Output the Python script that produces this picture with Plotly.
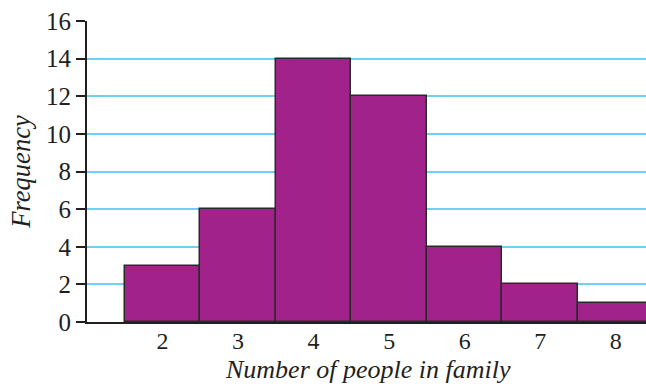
import plotly.graph_objects as go

family_size = [2, 3, 4, 5, 6, 7, 8]
frequency = [3, 6, 14, 12, 4, 2, 1]
y_ticks = [0, 2, 4, 6, 8, 10, 12, 14, 16]

font_family = "Liberation Serif"

fig = go.Figure(
    go.Bar(
        x=family_size,
        y=frequency,
        width=1,
        marker=dict(color="#A0228A", line=dict(color="#2a2a2a", width=1.5)),
        showlegend=False,
        hoverinfo="skip",
    )
)

fig.update_layout(
    width=646,
    height=386,
    margin=dict(l=87, r=0, t=21, b=64),
    plot_bgcolor="white",
    paper_bgcolor="white",
    font=dict(family=font_family, size=25, color="#231f20"),
    bargap=0,
    annotations=[
        dict(
            text="<i>Number of people in family</i>",
            xref="paper", yref="paper",
            x=0.502, y=-0.2126,
            xanchor="center", yanchor="bottom",
            showarrow=False,
            font=dict(size=26),
        )
    ],
)

fig.update_xaxes(
    range=[1.0, 8.4],
    tickvals=family_size,
    ticktext=[str(v) for v in family_size],
    showgrid=False,
    showline=True,
    linecolor="#231f20",
    linewidth=2,
    ticks="",
    zeroline=False,
    tickfont=dict(size=24),
    ticklabelstandoff=-4,
)

fig.update_yaxes(
    range=[0, 16],
    tickvals=y_ticks,
    showgrid=True,
    gridcolor="#6fd0f6",
    gridwidth=1.5,
    showline=True,
    linecolor="#231f20",
    linewidth=2,
    ticks="outside",
    ticklen=9,
    tickwidth=2,
    tickcolor="#231f20",
    zeroline=False,
    tickfont=dict(size=25),
    title=dict(text="<i>Frequency</i>", font=dict(size=26.5), standoff=8),
)

fig.write_html(
    "out.html",
    config={"displayModeBar": False},
    post_script="document.body.style.margin='0';document.body.style.overflow='hidden';",
)
